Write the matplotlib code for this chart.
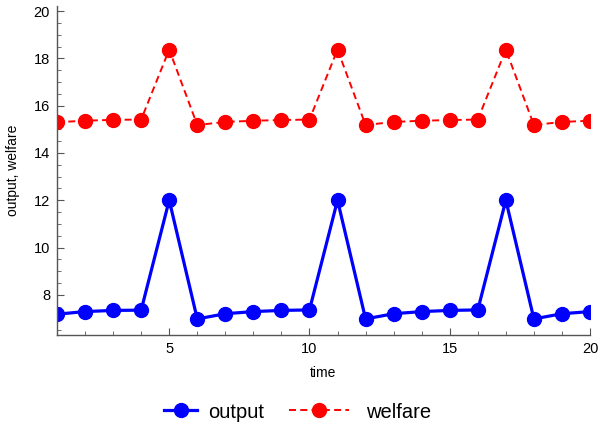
import matplotlib
matplotlib.use("Agg")
import matplotlib.pyplot as plt
from matplotlib.ticker import MultipleLocator
from matplotlib.legend_handler import HandlerLine2D

plt.rcParams['font.family'] = ['Liberation Sans', 'DejaVu Sans']

time = list(range(1, 21))
output = [7.18, 7.29, 7.34, 7.35, 12.0, 6.98, 7.2, 7.29, 7.34, 7.36, 12.0,
          6.98, 7.2, 7.29, 7.34, 7.36, 12.0, 6.98, 7.2, 7.29]
welfare = [15.3, 15.36, 15.4, 15.41, 18.37, 15.18, 15.31, 15.36, 15.39, 15.41, 18.37,
           15.18, 15.31, 15.36, 15.39, 15.41, 18.37, 15.18, 15.31, 15.36]


class ScaledHandler(HandlerLine2D):
    def __init__(self, frac, shift, **kw):
        super().__init__(**kw)
        self.frac = frac
        self.shift = shift

    def create_artists(self, legend, orig_handle, xdescent, ydescent, width, height, fontsize, trans):
        new_w = width * self.frac
        xdescent = xdescent - (width - new_w) - self.shift
        return super().create_artists(legend, orig_handle, xdescent, ydescent, new_w, height, fontsize, trans)


fig = plt.figure(figsize=(5.99, 4.28), dpi=100)
ax = fig.add_axes([57/599, 1-335/428, (590-57)/599, (335-6.3)/428])

l1, = ax.plot(time, output, color='#0000ff', lw=2.3, marker='o', ms=10, label='output')
l2, = ax.plot(time, welfare, color='#ff0000', lw=1.4, ls=(0, (3.6, 2.2)), marker='o', ms=10, label='welfare')

ax.set_xlim(1, 20)
ax.set_ylim(6.3, 20.2)
ax.xaxis.set_major_locator(MultipleLocator(5))
ax.xaxis.set_minor_locator(MultipleLocator(1))
ax.yaxis.set_minor_locator(MultipleLocator(0.5))
ax.set_yticks([8, 10, 12, 14, 16, 18, 20])

for s in ['top', 'right']:
    ax.spines[s].set_visible(False)
for s in ['left', 'bottom']:
    ax.spines[s].set_color('#555555')
    ax.spines[s].set_linewidth(1.0)
ax.tick_params(which='major', direction='in', length=5, color='#555555', labelsize=10.5, pad=5)
ax.tick_params(which='minor', direction='in', length=3, color='#555555')

ax.set_xlabel('time', fontsize=10, labelpad=7)
ax.set_ylabel('output, welfare', fontsize=10, labelpad=10)

leg = fig.legend(handles=[l1, l2], loc='center', bbox_to_anchor=(281/599, 1-412/428), ncol=2,
                 frameon=False, fontsize=14.5, handlelength=3.0, columnspacing=1.2,
                 handletextpad=0.85, borderpad=0,
                 handler_map={l1: ScaledHandler(0.55, 4.3)})
fig.savefig('out.png', dpi=100)
